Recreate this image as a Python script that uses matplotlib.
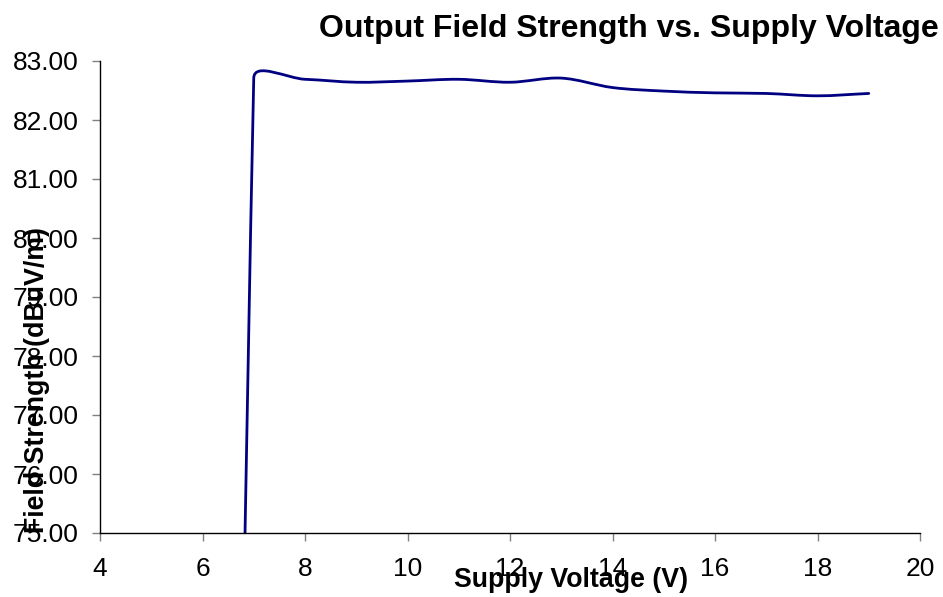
import numpy as np
import matplotlib
matplotlib.use("Agg")
import matplotlib.pyplot as plt
from matplotlib.path import Path
from matplotlib.patches import PathPatch

plt.rcParams['font.family'] = ['Liberation Sans', 'DejaVu Sans']

# Data
voltage = [6, 7, 8, 9, 10, 11, 12, 13, 14, 15, 16, 17, 18, 19]
field_strength = [0.0, 82.71, 82.69, 82.64, 82.66, 82.69, 82.64, 82.71,
                  82.55, 82.49, 82.46, 82.45, 82.41, 82.45]
x_ticks = [4, 6, 8, 10, 12, 14, 16, 18, 20]
y_ticks = [75, 76, 77, 78, 79, 80, 81, 82, 83]

title = "Output Field Strength vs. Supply Voltage"
xlabel = "Supply Voltage (V)"
ylabel = "Field Strength (dBuV/m)"

W, H = 943, 597
fig = plt.figure(figsize=(W / 100, H / 100), dpi=100)
ax = fig.add_axes([100 / W, 1 - 533 / H, 820 / W, 472 / H])
ax.set_xlim(4, 20)
ax.set_ylim(75, 83)

# Excel-style smoothed line: cubic Bezier segments built in display space
pts = ax.transData.transform(np.column_stack([voltage, field_strength]))
n = len(pts)
verts = [pts[0]]
codes = [Path.MOVETO]
for i in range(n - 1):
    p0 = pts[i - 1] if i > 0 else pts[i]
    p1 = pts[i]
    p2 = pts[i + 1]
    p3 = pts[i + 2] if i + 2 < n else pts[i + 1]
    d01 = np.hypot(*(p1 - p0))
    d12 = np.hypot(*(p2 - p1))
    d23 = np.hypot(*(p3 - p2))
    f1 = d12 / (d01 + d12) / 3 if d01 + d12 > 0 else 0
    f2 = d12 / (d12 + d23) / 3 if d12 + d23 > 0 else 0
    c1 = p1 + (p2 - p0) * f1
    c2 = p2 - (p3 - p1) * f2
    verts += [c1, c2, p2]
    codes += [Path.CURVE4] * 3
verts_data = ax.transData.inverted().transform(np.array(verts))
patch = PathPatch(Path(verts_data, codes), facecolor='none', edgecolor='#000080',
                  linewidth=2.0, capstyle='round', joinstyle='round')
ax.add_patch(patch)

ax.set_xticks(x_ticks)
ax.set_yticks(y_ticks)
ax.set_yticklabels([f"{v:.2f}" for v in y_ticks])
ax.tick_params(axis='both', direction='out', length=6, width=1, color='#808080',
               labelsize=19, labelcolor='black')
ax.tick_params(axis='y', pad=9.5)
ax.tick_params(axis='x', pad=11)
for s in ['top', 'right']:
    ax.spines[s].set_visible(False)
for s in ['left', 'bottom']:
    ax.spines[s].set_color('black')
    ax.spines[s].set_linewidth(1.0)

fig.text(629 / W, 1 - 29 / H, title, fontsize=23, fontweight='bold',
         ha='center', va='center')
fig.text(571 / W, 1 - 580 / H, xlabel, fontsize=19.3, fontweight='bold',
         ha='center', va='center')
fig.text(37 / W, 1 - 380 / H, ylabel, fontsize=19.3, fontweight='bold',
         ha='center', va='center', rotation=90)

fig.savefig("out.png", dpi=100)
